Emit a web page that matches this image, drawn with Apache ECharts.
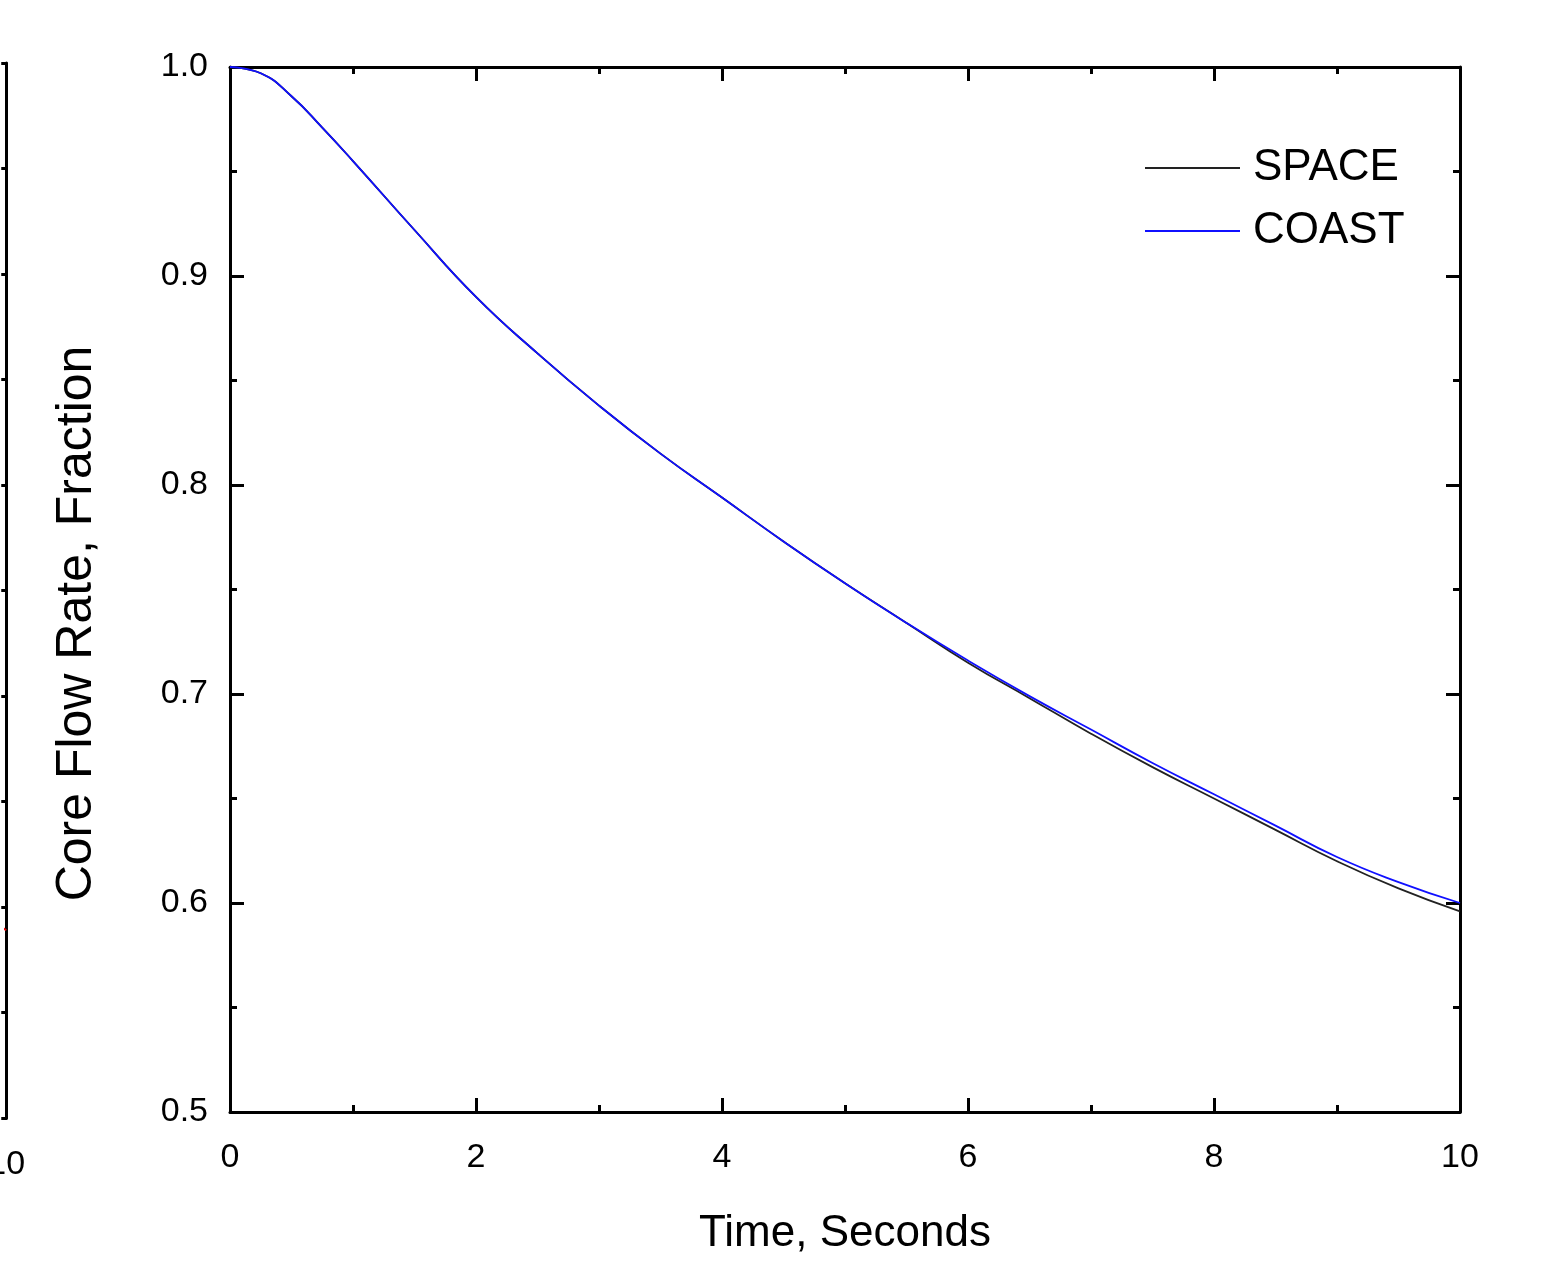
<!DOCTYPE html>
<html>
<head>
<meta charset="utf-8">
<script src="https://cdn.jsdelivr.net/npm/echarts@6/dist/echarts.min.js"></script>
<style>
html,body{margin:0;padding:0;background:#fff;}
#c{width:1548px;height:1261px;}
</style>
</head>
<body>
<div id="c"></div>
<script>
// ---- data ----
const timeS = [0, 0.25, 0.5, 0.75, 1, 1.5, 2, 2.5, 3, 3.5, 4, 4.5, 5, 5.5, 6, 6.5, 7, 7.5, 8, 8.5, 9, 9.5, 10];
const spaceFlow = [1.000, 0.997, 0.986, 0.971, 0.955, 0.922, 0.890, 0.863, 0.838, 0.815, 0.794, 0.773, 0.753, 0.734, 0.715, 0.698, 0.681, 0.665, 0.650, 0.635, 0.620, 0.607, 0.596];
const coastFlow = [1.000, 0.997, 0.986, 0.971, 0.955, 0.922, 0.890, 0.863, 0.838, 0.815, 0.794, 0.773, 0.753, 0.734, 0.716, 0.699, 0.683, 0.667, 0.652, 0.637, 0.622, 0.610, 0.600];
// neighbouring (cropped) panel on the left: only its right edge is visible
const leftTime = [9.9, 10];
const leftFlow = [0.590, 0.589];
const seriesNames = ['SPACE', 'COAST'];
const xTitle = 'Time, Seconds';
const yTitle = 'Core Flow Rate, Fraction';

const FONT = 'Arial, "Liberation Sans", sans-serif';
const zip = (a, b) => a.map((v, i) => [v, b[i]]);

const chart = echarts.init(document.getElementById('c'), null, {renderer: 'canvas'});

const tickBase = (show) => ({show: show, inside: true, length: 14, lineStyle: {color: '#000', width: 3}});
const minorBase = (show) => ({show: show, splitNumber: 2, length: 7, lineStyle: {color: '#000', width: 3}});
const lineBase = {show: true, onZero: false, lineStyle: {color: '#000', width: 3}};
const legendText = {fontFamily: FONT, fontSize: 44, color: '#000', padding: [0, 0, 0, 8]};

const option = {
  animation: false,
  backgroundColor: '#fff',
  grid: [
    {left: 230, width: 1230, top: 67, height: 1048},
    {left: 0, width: 5, top: 63, height: 1055}
  ],
  legend: [
    {data: [seriesNames[0]], left: 1140, top: 141, icon: 'rect', itemWidth: 95, itemHeight: 2, itemGap: 0, textStyle: legendText},
    {data: [seriesNames[1]], left: 1140, top: 204, icon: 'rect', itemWidth: 95, itemHeight: 2, itemGap: 0, textStyle: legendText}
  ],
  xAxis: [
    {gridIndex: 0, type: 'value', min: 0, max: 10, interval: 2, position: 'bottom',
     axisLine: lineBase, axisTick: tickBase(true), minorTick: minorBase(true), splitLine: {show: false},
     axisLabel: {fontFamily: FONT, fontSize: 34, color: '#000', margin: 29},
     name: xTitle, nameLocation: 'middle', nameGap: 100,
     nameTextStyle: {fontFamily: FONT, fontSize: 44, color: '#000'}},
    {gridIndex: 0, type: 'value', min: 0, max: 10, interval: 2, position: 'top',
     axisLine: lineBase, axisTick: tickBase(true), minorTick: minorBase(true), splitLine: {show: false},
     axisLabel: {show: false}},
    {gridIndex: 1, type: 'value', min: 9.96, max: 10, interval: 0.04, position: 'bottom',
     axisLine: lineBase, axisTick: {show: false}, splitLine: {show: false},
     axisLabel: {fontFamily: FONT, fontSize: 34, color: '#000', margin: 30,
                 formatter: v => (Math.abs(v - 10) < 1e-6 ? '10' : '')}},
    {gridIndex: 1, type: 'value', min: 9.96, max: 10, interval: 0.04, position: 'top',
     axisLine: lineBase, axisTick: {show: false}, splitLine: {show: false},
     axisLabel: {show: false}}
  ],
  yAxis: [
    {gridIndex: 0, type: 'value', min: 0.5, max: 1.0, interval: 0.1, position: 'left',
     axisLine: lineBase, axisTick: tickBase(true), minorTick: minorBase(true), splitLine: {show: false},
     axisLabel: {fontFamily: FONT, fontSize: 34, color: '#000', margin: 22, formatter: v => v.toFixed(1)},
     name: yTitle, nameLocation: 'middle', nameGap: 128,
     nameTextStyle: {fontFamily: FONT, fontSize: 50, color: '#000', padding: [0, 68, 0, 0]}},
    {gridIndex: 0, type: 'value', min: 0.5, max: 1.0, interval: 0.1, position: 'right',
     axisLine: lineBase, axisTick: tickBase(true), minorTick: minorBase(true), splitLine: {show: false},
     axisLabel: {show: false}},
    {gridIndex: 1, type: 'value', min: 0.5, max: 1.0, interval: 0.1, position: 'right',
     axisLine: lineBase, axisTick: {show: true, inside: true, length: 5, lineStyle: {color: '#000', width: 3}},
     minorTick: {show: true, splitNumber: 2, length: 5, lineStyle: {color: '#000', width: 3}},
     splitLine: {show: false}, axisLabel: {show: false}}
  ],
  series: [
    {name: seriesNames[0], type: 'line', xAxisIndex: 0, yAxisIndex: 0, data: zip(timeS, spaceFlow),
     smooth: true, symbol: 'none', lineStyle: {color: '#222', width: 1.8}, itemStyle: {color: '#222'}, z: 3},
    {name: seriesNames[1], type: 'line', xAxisIndex: 0, yAxisIndex: 0, data: zip(timeS, coastFlow),
     smooth: true, symbol: 'none', lineStyle: {color: '#1010ff', width: 1.8}, itemStyle: {color: '#1010ff'}, z: 4},
    {name: 'left', type: 'line', xAxisIndex: 2, yAxisIndex: 2, data: zip(leftTime, leftFlow),
     symbol: 'none', lineStyle: {color: '#e00000', width: 2}, z: 2}
  ]
};
chart.setOption(option);
</script>
</body>
</html>
